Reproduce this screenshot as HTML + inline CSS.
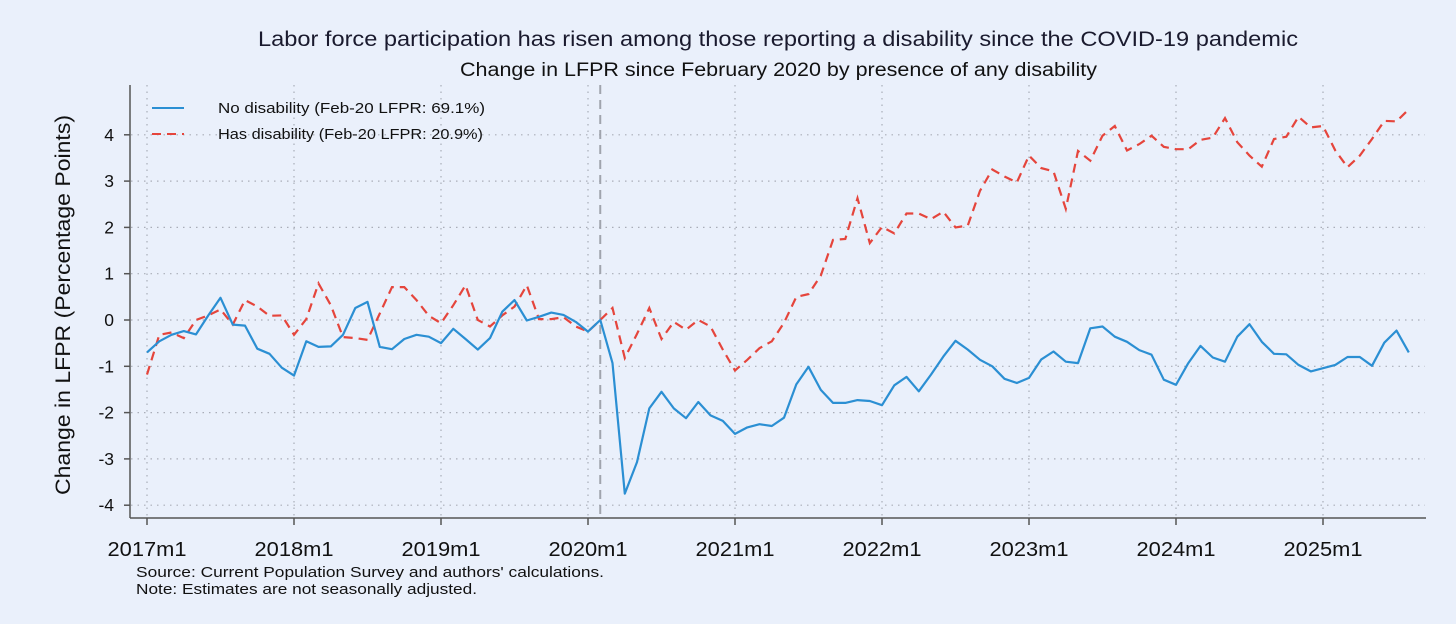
<!DOCTYPE html>
<html><head><meta charset="utf-8"><style>
body{margin:0;background:#eaf0fb;}
svg{display:block;font-family:"Liberation Sans",sans-serif;}
</style></head><body>
<svg id="chart" width="1456" height="624">
<rect width="1456" height="624" fill="#eaf0fb"/>
<text x="258" y="46" font-size="21.5" fill="#1a1a2e" textLength="1040" lengthAdjust="spacingAndGlyphs">Labor force participation has risen among those reporting a disability since the COVID-19 pandemic</text>
<text x="460" y="76" font-size="19" fill="#111" textLength="637" lengthAdjust="spacingAndGlyphs">Change in LFPR since February 2020 by presence of any disability</text>
<text transform="translate(70,305) rotate(-90)" text-anchor="middle" font-size="21" fill="#111" textLength="380" lengthAdjust="spacingAndGlyphs">Change in LFPR (Percentage Points)</text>
<g id="grid"></g>
<g id="axes"></g>
<g id="series"></g>
<g>
<line x1="152" y1="108" x2="184" y2="108" stroke="#2b8fd3" stroke-width="2"/>
<text x="218" y="113" font-size="15" fill="#111" textLength="267" lengthAdjust="spacingAndGlyphs">No disability (Feb-20 LFPR: 69.1%)</text>
<line x1="152" y1="134" x2="184" y2="134" stroke="#e5453c" stroke-width="2" stroke-dasharray="9,6"/>
<text x="218" y="139" font-size="15" fill="#111" textLength="265" lengthAdjust="spacingAndGlyphs">Has disability (Feb-20 LFPR: 20.9%)</text>
</g>
<text x="136" y="577" font-size="14.5" fill="#111" textLength="468" lengthAdjust="spacingAndGlyphs">Source: Current Population Survey and authors' calculations.</text>
<text x="136" y="594" font-size="14.5" fill="#111" textLength="341" lengthAdjust="spacingAndGlyphs">Note: Estimates are not seasonally adjusted.</text>
</svg>
<script>
const noDisability=[-0.7,-0.46,-0.32,-0.24,-0.31,0.1,0.48,-0.1,-0.12,-0.62,-0.73,-1.03,-1.2,-0.46,-0.58,-0.57,-0.32,0.26,0.39,-0.58,-0.63,-0.41,-0.32,-0.36,-0.5,-0.19,-0.41,-0.64,-0.39,0.18,0.43,-0.01,0.07,0.16,0.11,-0.04,-0.25,0,-0.93,-3.75,-3.07,-1.91,-1.55,-1.91,-2.12,-1.77,-2.06,-2.18,-2.46,-2.32,-2.25,-2.29,-2.11,-1.39,-1.01,-1.51,-1.79,-1.79,-1.73,-1.75,-1.84,-1.41,-1.23,-1.54,-1.18,-0.79,-0.45,-0.64,-0.86,-1.0,-1.27,-1.36,-1.25,-0.85,-0.68,-0.9,-0.93,-0.18,-0.14,-0.36,-0.47,-0.65,-0.75,-1.29,-1.4,-0.93,-0.56,-0.81,-0.9,-0.36,-0.09,-0.47,-0.73,-0.74,-0.97,-1.11,-1.04,-0.97,-0.8,-0.8,-0.99,-0.49,-0.23,-0.7];
const hasDisability=[-1.18,-0.32,-0.27,-0.39,0,0.1,0.23,-0.1,0.43,0.29,0.09,0.1,-0.32,0.02,0.79,0.32,-0.37,-0.39,-0.43,0.14,0.71,0.71,0.43,0.09,-0.07,0.32,0.75,0,-0.14,0.1,0.29,0.75,0.02,0.02,0.06,-0.14,-0.25,0,0.26,-0.82,-0.3,0.26,-0.41,-0.04,-0.21,0,-0.14,-0.64,-1.09,-0.86,-0.61,-0.46,-0.06,0.5,0.56,0.96,1.73,1.75,2.63,1.66,2.01,1.87,2.3,2.3,2.18,2.34,2.0,2.04,2.79,3.25,3.1,2.97,3.55,3.28,3.21,2.4,3.65,3.44,3.98,4.19,3.66,3.8,3.98,3.74,3.69,3.69,3.89,3.94,4.36,3.84,3.55,3.31,3.91,3.96,4.39,4.16,4.19,3.66,3.3,3.55,3.91,4.3,4.29,4.55];
const yTicks=[-4,-3,-2,-1,0,1,2,3,4];
const xTickLabels=["2017m1","2018m1","2019m1","2020m1","2021m1","2022m1","2023m1","2024m1","2025m1"];
const baseMonth=37;
const NS="http://www.w3.org/2000/svg";
const X=i=>147+i*12.25;
const Y=v=>320-v*46.3;
function mk(tag,attrs,parent){const e=document.createElementNS(NS,tag);for(const k in attrs)e.setAttribute(k,attrs[k]);parent.appendChild(e);return e;}
const grid=document.getElementById('grid'),axes=document.getElementById('axes'),series=document.getElementById('series');
yTicks.forEach(v=>{
 const l=mk('line',{x1:131,x2:1425,y1:Y(v),y2:Y(v),stroke:'#a9adb8','stroke-width':1.2,'stroke-dasharray':'1.5,5'},grid);
 
 
 const t=mk('line',{x1:124,x2:130,y1:Y(v),y2:Y(v),stroke:'#555','stroke-width':1.5},axes);
 
 
 const tx=mk('text',{x:114,y:Y(v)+6,'text-anchor':'end','font-size':17.5,fill:'#111'},axes);
 tx.textContent=v;
 
 
});
xTickLabels.forEach((lab,k)=>{
 const x=X(k*12);
 const l=mk('line',{x1:x,x2:x,y1:85,y2:517,stroke:'#a9adb8','stroke-width':1.2,'stroke-dasharray':'1.5,5'},grid);
 
 
 const t=mk('line',{x1:x,x2:x,y1:518,y2:525,stroke:'#555','stroke-width':1.5},axes);
 
 
 const tx=mk('text',{x:x,y:556,'text-anchor':'middle','font-size':20,fill:'#111',textLength:79,lengthAdjust:'spacingAndGlyphs'},axes);
 tx.textContent=lab;
 
 
});
const ya=mk('line',{x1:130,x2:130,y1:85,y2:518,stroke:'#555','stroke-width':1.5},axes);


const xa=mk('line',{x1:130,x2:1426,y1:518,y2:518,stroke:'#555','stroke-width':1.5},axes);


const ref=mk('line',{x1:X(baseMonth),x2:X(baseMonth),y1:85,y2:518,stroke:'#a0a4ad','stroke-width':2,'stroke-dasharray':'9,6'},series);


function path(arr){return arr.map((v,i)=>(i?'L':'M')+X(i).toFixed(1)+','+Y(v).toFixed(1)).join('');}
const r=mk('path',{d:path(hasDisability),fill:'none',stroke:'#e5453c','stroke-width':2.2,'stroke-dasharray':'9,6'},series);


const b=mk('path',{d:path(noDisability),fill:'none',stroke:'#2b8fd3','stroke-width':2.2,'stroke-linejoin':'round'},series);


</script>
</body></html>
